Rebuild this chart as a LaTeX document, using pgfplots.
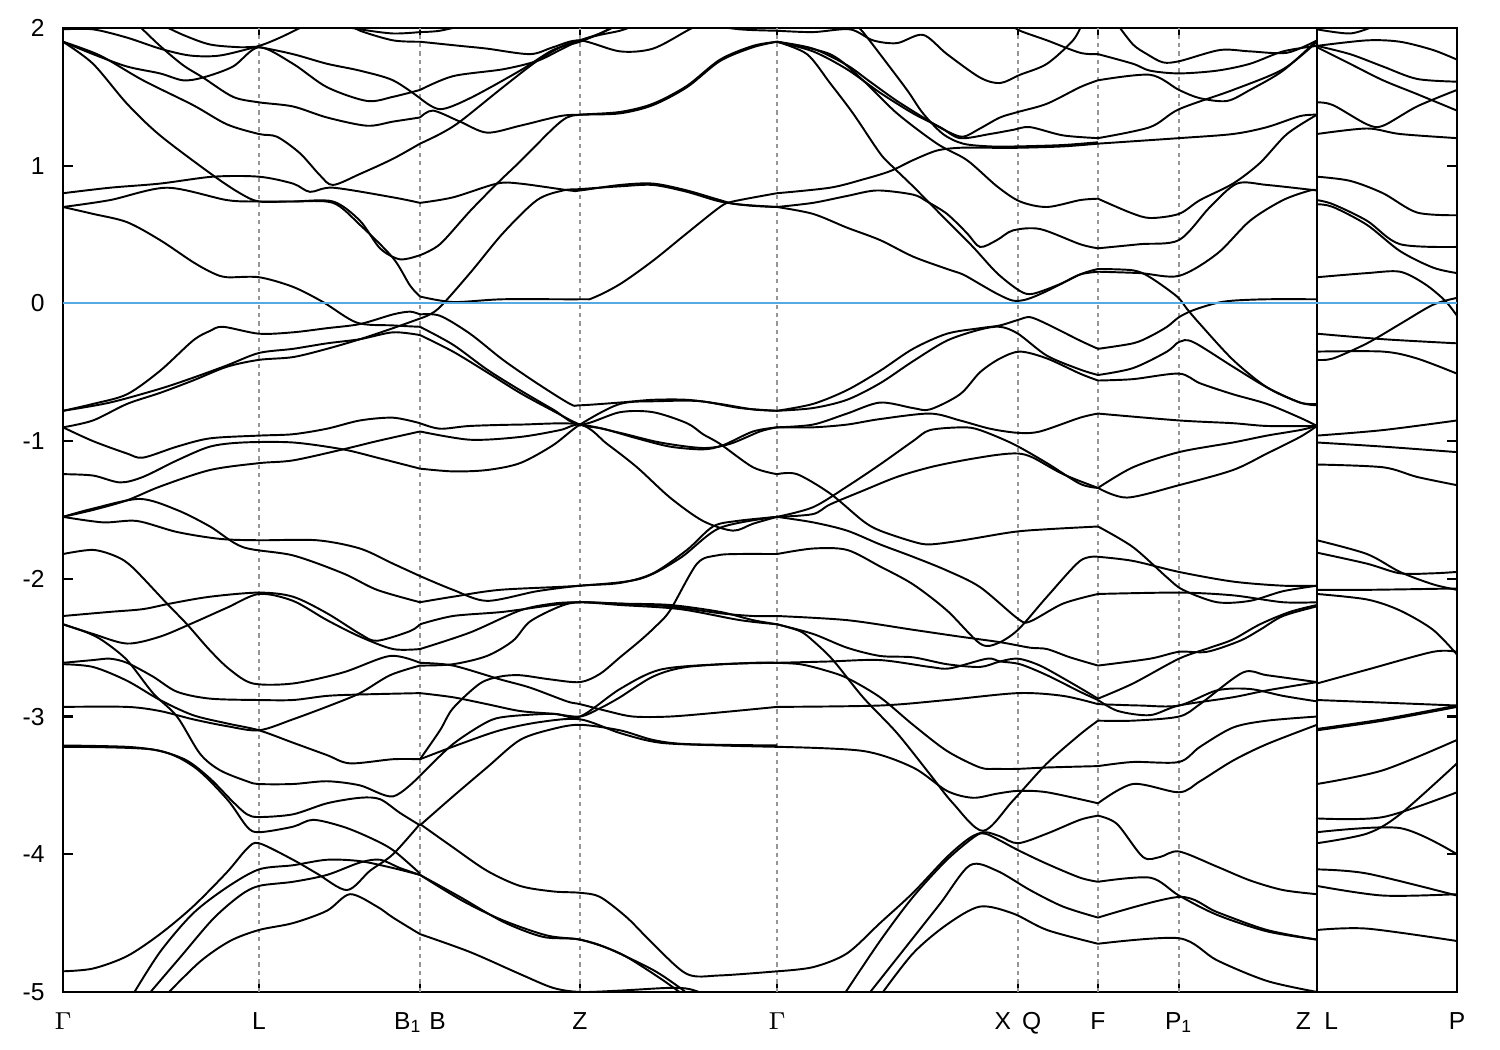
\documentclass[border=0pt]{standalone}
\usepackage{fontspec}
\setmainfont{Liberation Sans}
\usepackage{pgfplots}
\pgfplotsset{compat=1.18}
\definecolor{fermi}{RGB}{86,170,226}
\definecolor{guide}{RGB}{150,150,150}
\begin{document}
\begin{tikzpicture}
\begin{axis}[
  width=13.94cm, height=9.64cm, scale only axis,
  xmin=63, xmax=1457, ymin=-5, ymax=2,
  xtick={63,259,420,580,777,1018,1098,1179,1317,1457},
  xticklabels={$\Gamma$,L,B\textsubscript{1}\hspace{0.3em}B,Z,$\Gamma$,X\hspace{0.45em}Q,F,P\textsubscript{1},Z\hspace{0.55em}L,P},
  ytick={-5,-4,-3,-2,-1,0,1,2},
  yticklabels={-5,-4,-3,-2,-1,0,1,2},
  tick align=inside, major tick length=0.1cm,
  tick style={black, line width=0.6pt},
  axis line style={line width=0.8pt},
  tick label style={font=\fontsize{7}{8}\selectfont},
  xticklabel style={yshift=-0.08cm},
  yticklabel style={xshift=-0.06cm},
  band/.style={black, line width=0.55pt, smooth, tension=0.5},
]
% guide lines
\draw[guide, dash pattern=on 1.2pt off 1.2pt, line width=0.3pt] (axis cs:259,-5) -- (axis cs:259,2);
\draw[guide, dash pattern=on 1.2pt off 1.2pt, line width=0.3pt] (axis cs:420,-5) -- (axis cs:420,2);
\draw[guide, dash pattern=on 1.2pt off 1.2pt, line width=0.3pt] (axis cs:580,-5) -- (axis cs:580,2);
\draw[guide, dash pattern=on 1.2pt off 1.2pt, line width=0.3pt] (axis cs:777,-5) -- (axis cs:777,2);
\draw[guide, dash pattern=on 1.2pt off 1.2pt, line width=0.3pt] (axis cs:1018,-5) -- (axis cs:1018,2);
\draw[guide, dash pattern=on 1.2pt off 1.2pt, line width=0.3pt] (axis cs:1098,-5) -- (axis cs:1098,2);
\draw[guide, dash pattern=on 1.2pt off 1.2pt, line width=0.3pt] (axis cs:1179,-5) -- (axis cs:1179,2);
\draw[black, line width=0.6pt] (axis cs:1317,-5) -- (axis cs:1317,2);

% ---------- Gamma - L - B ----------
\addplot[band] coordinates {(63,1.99)(93,1.99)(127,1.93)(160,1.85)(190,1.80)(220,1.80)(259,1.87)(280,1.93)(300,2.0)(310,2.03)};
\addplot[band] coordinates {(160,2.03)(183,1.95)(210,1.88)(240,1.86)(259,1.86)(293,1.81)(327,1.74)(360,1.69)(393,1.62)(420,1.49)};
\addplot[band] coordinates {(63,1.90)(93,1.81)(127,1.72)(160,1.67)(183,1.62)(203,1.64)(233,1.72)(259,1.86)(293,1.74)(327,1.57)(367,1.47)(393,1.50)(420,1.55)};
\addplot[band] coordinates {(137,2.03)(160,1.87)(183,1.73)(203,1.64)(233,1.50)(259,1.46)(293,1.43)(327,1.35)(367,1.29)(393,1.32)(420,1.35)};
\addplot[band] coordinates {(63,1.90)(100,1.80)(143,1.62)(193,1.44)(227,1.30)(259,1.23)(277,1.21)(300,1.09)(320,0.93)(333,0.86)(360,0.94)(393,1.05)(420,1.16)};
\addplot[band] coordinates {(63,1.90)(93,1.74)(127,1.45)(160,1.22)(213,0.93)(240,0.80)(259,0.74)(293,0.74)(333,0.73)(360,0.57)(393,0.33)(410,0.13)(420,0.05)};
\addplot[band] coordinates {(63,0.70)(110,0.75)(167,0.84)(227,0.75)(259,0.74)(293,0.74)(333,0.74)(360,0.60)(380,0.40)(400,0.32)(420,0.35)};
\addplot[band] coordinates {(63,0.80)(110,0.84)(160,0.87)(213,0.92)(259,0.92)(293,0.87)(310,0.81)(333,0.84)(393,0.77)(420,0.73)};
\addplot[band] coordinates {(63,0.70)(93,0.65)(127,0.59)(160,0.46)(193,0.30)(213,0.22)(227,0.19)(259,0.19)(293,0.12)(323,0.01)(357,-0.14)(393,-0.16)(420,-0.17)};
\addplot[band] coordinates {(350,2.03)(360,1.98)(393,1.91)(420,1.90)};
\addplot[band] coordinates {(330,2.03)(360,1.99)(393,1.96)(420,1.97)};
\addplot[band] coordinates {(63,-0.78)(93,-0.73)(127,-0.66)(160,-0.49)(193,-0.27)(210,-0.20)(223,-0.17)(259,-0.22)(293,-0.21)(327,-0.18)(360,-0.15)(393,-0.08)(410,-0.06)(420,-0.08)};
\addplot[band] coordinates {(63,-0.78)(110,-0.72)(160,-0.62)(193,-0.54)(227,-0.45)(259,-0.36)(293,-0.33)(327,-0.29)(360,-0.26)(393,-0.21)(420,-0.23)};
\addplot[band] coordinates {(63,-0.90)(93,-0.85)(127,-0.73)(160,-0.65)(193,-0.56)(227,-0.46)(259,-0.41)(293,-0.39)(327,-0.33)(360,-0.26)(393,-0.18)(420,-0.11)};
\addplot[band] coordinates {(63,-0.90)(93,-1.00)(127,-1.09)(143,-1.12)(177,-1.04)(210,-0.98)(259,-0.96)(293,-0.95)(327,-0.91)(360,-0.85)(393,-0.83)(420,-0.87)};
\addplot[band] coordinates {(63,-1.24)(93,-1.25)(120,-1.30)(143,-1.26)(177,-1.14)(210,-1.04)(243,-1.01)(293,-1.01)(343,-1.06)(377,-1.12)(420,-1.20)};
\addplot[band] coordinates {(63,-1.55)(93,-1.50)(127,-1.43)(160,-1.33)(210,-1.21)(259,-1.16)(293,-1.14)(343,-1.06)(377,-1.00)(420,-0.93)};
\addplot[band] coordinates {(63,-1.55)(93,-1.49)(140,-1.42)(177,-1.50)(210,-1.62)(243,-1.77)(293,-1.83)(343,-1.96)(377,-2.08)(420,-2.17)};
\addplot[band] coordinates {(63,-1.55)(103,-1.59)(137,-1.58)(177,-1.66)(220,-1.71)(259,-1.72)(317,-1.72)(360,-1.78)(393,-1.89)(420,-1.98)};
\addplot[band] coordinates {(63,-1.82)(93,-1.79)(117,-1.84)(133,-1.92)(167,-2.18)(187,-2.33)(210,-2.52)(230,-2.66)(253,-2.76)(293,-2.76)(343,-2.68)(390,-2.56)(420,-2.61)};
\addplot[band] coordinates {(63,-2.27)(110,-2.24)(143,-2.22)(170,-2.18)(210,-2.13)(259,-2.10)(293,-2.13)(327,-2.25)(360,-2.40)(377,-2.45)(410,-2.38)(420,-2.33)};
\addplot[band] coordinates {(63,-2.33)(93,-2.40)(127,-2.47)(160,-2.42)(193,-2.32)(227,-2.21)(259,-2.11)(293,-2.16)(327,-2.30)(360,-2.42)(393,-2.51)(420,-2.51)};
\addplot[band] coordinates {(63,-2.33)(87,-2.39)(103,-2.45)(127,-2.59)(153,-2.83)(177,-3.00)(200,-3.27)(220,-3.39)(247,-3.47)(259,-3.49)(293,-3.49)(327,-3.47)(360,-3.50)(393,-3.58)(420,-3.43)};
\addplot[band] coordinates {(63,-2.61)(93,-2.59)(110,-2.58)(127,-2.61)(153,-2.71)(177,-2.82)(210,-2.87)(259,-2.88)(293,-2.88)(327,-2.85)(360,-2.84)(420,-2.83)};
\addplot[band] coordinates {(63,-2.62)(93,-2.64)(127,-2.74)(160,-2.88)(193,-2.99)(227,-3.05)(259,-3.10)(293,-3.19)(327,-3.28)(350,-3.34)(393,-3.31)(420,-3.31)};
\addplot[band] coordinates {(63,-2.93)(127,-2.93)(160,-2.96)(193,-3.02)(227,-3.07)(259,-3.10)(293,-3.02)(330,-2.92)(360,-2.83)(390,-2.70)(420,-2.63)};
\addplot[band] coordinates {(63,-3.21)(127,-3.22)(160,-3.25)(187,-3.32)(210,-3.45)(233,-3.62)(247,-3.71)(259,-3.73)(293,-3.71)(327,-3.63)(360,-3.59)(380,-3.60)(400,-3.70)(420,-3.79)};
\addplot[band] coordinates {(63,-3.22)(153,-3.24)(193,-3.36)(227,-3.60)(247,-3.80)(259,-3.84)(293,-3.80)(313,-3.75)(343,-3.80)(370,-3.88)(393,-3.97)(420,-4.14)};
\addplot[band] coordinates {(63,-4.85)(93,-4.83)(127,-4.74)(160,-4.58)(193,-4.38)(227,-4.13)(247,-3.96)(259,-3.92)(293,-4.04)(317,-4.14)(347,-4.26)(370,-4.12)(393,-4.00)(420,-3.78)};
\addplot[band] coordinates {(132,-5.03)(160,-4.71)(193,-4.43)(227,-4.24)(259,-4.11)(293,-4.08)(327,-4.04)(360,-4.05)(393,-4.10)(420,-4.15)};
\addplot[band] coordinates {(147,-5.03)(180,-4.75)(213,-4.47)(240,-4.30)(259,-4.23)(293,-4.20)(327,-4.15)(360,-4.06)(380,-4.04)(400,-4.10)(420,-4.15)};
\addplot[band] coordinates {(165,-5.03)(200,-4.78)(230,-4.63)(259,-4.55)(293,-4.50)(327,-4.41)(350,-4.29)(377,-4.38)(393,-4.46)(420,-4.58)};

% ---------- B - Z - Gamma ----------
\addplot[band] coordinates {(420,1.90)(460,1.87)(487,1.85)(530,1.81)(553,1.86)(580,1.91)(620,1.83)(653,1.85)(687,1.98)(700,2.03)};
\addplot[band] coordinates {(420,1.97)(440,1.98)(470,2.03)};
\addplot[band] coordinates {(420,1.55)(453,1.65)(503,1.70)(537,1.76)(560,1.84)(580,1.91)(600,1.95)(620,1.98)(640,2.03)};
\addplot[band] coordinates {(420,1.49)(440,1.41)(470,1.49)(520,1.69)(553,1.84)(580,1.90)(600,1.96)(620,2.03)};
\addplot[band] coordinates {(420,1.35)(433,1.40)(460,1.32)(487,1.24)(520,1.29)(560,1.36)(580,1.37)(620,1.38)(653,1.44)(687,1.57)(720,1.76)(753,1.86)(777,1.90)};
\addplot[band] coordinates {(420,1.16)(440,1.23)(460,1.32)(503,1.57)(537,1.76)(563,1.87)(580,1.91)(600,1.96)(620,2.03)};
\addplot[band] coordinates {(420,0.35)(440,0.43)(470,0.67)(497,0.87)(520,1.03)(553,1.27)(567,1.35)(580,1.37)(620,1.39)(653,1.45)(687,1.58)(720,1.77)(753,1.87)(777,1.90)};
\addplot[band] coordinates {(420,0.73)(453,0.77)(497,0.87)(520,0.87)(570,0.82)(580,0.82)(620,0.86)(653,0.87)(687,0.82)(720,0.75)(737,0.72)(777,0.70)};
\addplot[band] coordinates {(420,-0.11)(438,-0.04)(470,0.22)(503,0.51)(537,0.75)(563,0.82)(580,0.83)(620,0.85)(653,0.86)(687,0.81)(720,0.74)(750,0.71)(777,0.70)};
\addplot[band] coordinates {(420,0.05)(453,0.01)(503,0.03)(580,0.03)(593,0.04)(620,0.14)(653,0.31)(687,0.51)(720,0.70)(733,0.74)(777,0.80)};
\addplot[band] coordinates {(700,2.03)(740,1.99)(777,1.98)};
\addplot[band] coordinates {(420,-0.08)(440,-0.09)(470,-0.22)(503,-0.41)(537,-0.58)(570,-0.73)(580,-0.74)(620,-0.72)(653,-0.70)(687,-0.70)(720,-0.73)(753,-0.77)(777,-0.78)};
\addplot[band] coordinates {(420,-0.17)(453,-0.30)(487,-0.48)(520,-0.63)(553,-0.77)(580,-0.88)(620,-0.79)(653,-0.79)(687,-0.87)(703,-0.95)(720,-1.02)(753,-1.19)(777,-1.24)};
\addplot[band] coordinates {(420,-0.23)(453,-0.35)(487,-0.50)(520,-0.65)(553,-0.78)(580,-0.88)(603,-0.91)(637,-0.98)(670,-1.04)(703,-1.06)(723,-1.03)(753,-0.93)(777,-0.90)};
\addplot[band] coordinates {(420,-0.87)(440,-0.91)(470,-0.89)(520,-0.88)(580,-0.88)(607,-1.02)(637,-1.19)(670,-1.41)(703,-1.58)(733,-1.65)(753,-1.60)(777,-1.55)};
\addplot[band] coordinates {(420,-0.93)(470,-0.99)(520,-0.97)(560,-0.92)(580,-0.88)(620,-0.94)(660,-1.01)(703,-1.05)(730,-1.02)(760,-0.93)(777,-0.90)};
\addplot[band] coordinates {(420,-1.20)(453,-1.22)(487,-1.21)(520,-1.16)(553,-1.03)(580,-0.88)(620,-0.73)(660,-0.71)(700,-0.71)(740,-0.76)(777,-0.78)};
\addplot[band] coordinates {(420,-1.98)(453,-2.08)(487,-2.16)(537,-2.09)(580,-2.05)(620,-2.03)(653,-1.96)(687,-1.79)(713,-1.62)(737,-1.58)(777,-1.55)};
\addplot[band] coordinates {(420,-2.17)(453,-2.13)(500,-2.08)(580,-2.05)(640,-2.00)(680,-1.85)(720,-1.63)(777,-1.55)};
\addplot[band] coordinates {(420,-2.33)(453,-2.27)(503,-2.24)(553,-2.19)(580,-2.17)(620,-2.18)(670,-2.20)(720,-2.25)(753,-2.27)(777,-2.27)};
\addplot[band] coordinates {(420,-2.51)(470,-2.39)(520,-2.23)(553,-2.18)(580,-2.17)(620,-2.18)(670,-2.19)(720,-2.24)(753,-2.30)(777,-2.33)};
\addplot[band] coordinates {(420,-2.63)(453,-2.62)(487,-2.56)(513,-2.45)(530,-2.31)(560,-2.20)(580,-2.17)(620,-2.19)(680,-2.22)(740,-2.30)(777,-2.33)};
\addplot[band] coordinates {(420,-2.61)(453,-2.63)(500,-2.73)(530,-2.79)(567,-2.89)(580,-2.91)(607,-2.96)(633,-3.00)(670,-3.00)(720,-2.97)(777,-2.93)};
\addplot[band] coordinates {(420,-2.83)(453,-2.86)(487,-2.91)(520,-2.96)(553,-2.98)(580,-3.00)(600,-2.94)(620,-2.86)(653,-2.71)(687,-2.64)(753,-2.61)(777,-2.61)};
\addplot[band] coordinates {(420,-3.31)(440,-3.10)(453,-2.94)(480,-2.76)(500,-2.71)(520,-2.70)(550,-2.73)(580,-2.75)(600,-2.69)(620,-2.57)(640,-2.45)(655,-2.35)(670,-2.23)(697,-1.89)(717,-1.83)(737,-1.82)(777,-1.82)};
\addplot[band] coordinates {(420,-3.43)(453,-3.20)(487,-3.04)(507,-3.00)(553,-2.98)(580,-3.00)(620,-2.80)(660,-2.66)(720,-2.62)(777,-2.61)};
\addplot[band] coordinates {(420,-3.31)(460,-3.20)(500,-3.10)(540,-3.04)(580,-3.02)(620,-3.12)(660,-3.19)(720,-3.21)(777,-3.22)};
\addplot[band] coordinates {(420,-3.79)(453,-3.58)(487,-3.37)(520,-3.17)(553,-3.09)(580,-3.06)(620,-3.10)(653,-3.17)(687,-3.20)(777,-3.21)};
\addplot[band] coordinates {(420,-3.78)(453,-3.95)(487,-4.12)(520,-4.23)(553,-4.27)(580,-4.28)(600,-4.31)(627,-4.46)(653,-4.65)(687,-4.87)(720,-4.88)(777,-4.85)};
\addplot[band] coordinates {(420,-4.15)(463,-4.34)(503,-4.48)(547,-4.59)(580,-4.62)(607,-4.68)(653,-4.84)(680,-4.97)(690,-5.03)};
\addplot[band] coordinates {(420,-4.15)(460,-4.31)(503,-4.49)(543,-4.60)(580,-4.62)(620,-4.72)(660,-4.90)(685,-5.03)};
\addplot[band] coordinates {(420,-4.58)(470,-4.71)(520,-4.87)(553,-4.97)(580,-5.00)(620,-4.99)(670,-4.97)(690,-4.98)(710,-5.03)};

% ---------- Gamma - X - F ----------
\addplot[band] coordinates {(777,1.98)(813,1.97)(850,1.99)(873,1.91)(897,1.89)(923,1.95)(947,1.81)(980,1.64)(1000,1.60)(1020,1.66)(1047,1.74)(1073,1.91)(1082,2.03)};
\addplot[band] coordinates {(855,2.03)(863,1.97)(880,1.81)(907,1.55)(923,1.38)(943,1.23)(963,1.16)(990,1.14)(1018,1.14)(1063,1.15)(1098,1.17)};
\addplot[band] coordinates {(777,0.80)(830,0.84)(863,0.90)(890,0.96)(913,1.04)(937,1.11)(960,1.13)(990,1.13)(1018,1.13)(1063,1.14)(1098,1.16)};
\addplot[band] coordinates {(777,1.90)(813,1.85)(847,1.73)(870,1.61)(897,1.47)(930,1.32)(947,1.25)(963,1.21)(980,1.27)(1000,1.35)(1018,1.39)(1047,1.45)(1080,1.57)(1098,1.62)};
\addplot[band] coordinates {(777,1.90)(813,1.83)(847,1.70)(880,1.53)(913,1.38)(940,1.28)(960,1.20)(990,1.23)(1013,1.26)(1030,1.28)(1063,1.22)(1098,1.20)};
\addplot[band] coordinates {(777,1.90)(830,1.81)(863,1.62)(897,1.38)(937,1.16)(967,1.04)(997,0.85)(1020,0.74)(1047,0.70)(1080,0.75)(1098,0.76)};
\addplot[band] coordinates {(777,1.90)(807,1.81)(830,1.60)(853,1.38)(880,1.09)(893,0.99)(913,0.85)(947,0.60)(973,0.41)(997,0.22)(1020,0.09)(1033,0.07)(1060,0.14)(1080,0.21)(1098,0.23)};
\addplot[band] coordinates {(777,0.70)(813,0.73)(847,0.78)(877,0.82)(913,0.79)(927,0.74)(947,0.65)(967,0.51)(980,0.41)(997,0.46)(1013,0.53)(1040,0.54)(1080,0.43)(1098,0.40)};
\addplot[band] coordinates {(777,0.70)(813,0.65)(847,0.55)(880,0.46)(913,0.34)(947,0.25)(963,0.21)(980,0.14)(997,0.07)(1013,0.02)(1027,0.03)(1047,0.09)(1080,0.21)(1098,0.25)};
\addplot[band] coordinates {(1010,2.03)(1020,1.98)(1047,1.91)(1080,1.82)(1098,1.81)};
\addplot[band] coordinates {(777,-0.78)(813,-0.73)(847,-0.63)(880,-0.49)(913,-0.33)(947,-0.22)(980,-0.18)(1000,-0.16)(1018,-0.12)(1030,-0.10)(1047,-0.15)(1080,-0.27)(1098,-0.33)};
\addplot[band] coordinates {(777,-0.78)(813,-0.76)(847,-0.70)(880,-0.58)(913,-0.42)(947,-0.27)(980,-0.19)(1000,-0.17)(1018,-0.22)(1047,-0.38)(1080,-0.48)(1098,-0.52)};
\addplot[band] coordinates {(777,-0.90)(813,-0.88)(847,-0.80)(880,-0.72)(913,-0.76)(930,-0.77)(960,-0.66)(980,-0.50)(1000,-0.40)(1020,-0.35)(1047,-0.40)(1080,-0.51)(1098,-0.56)};
\addplot[band] coordinates {(777,-0.90)(813,-0.90)(847,-0.88)(880,-0.84)(930,-0.80)(960,-0.85)(990,-0.91)(1018,-0.94)(1040,-0.93)(1080,-0.83)(1098,-0.80)};
\addplot[band] coordinates {(777,-1.24)(797,-1.24)(830,-1.38)(863,-1.58)(880,-1.65)(913,-1.73)(930,-1.75)(963,-1.72)(1013,-1.66)(1047,-1.64)(1098,-1.62)};
\addplot[band] coordinates {(777,-1.55)(813,-1.53)(830,-1.46)(863,-1.36)(897,-1.26)(930,-1.19)(963,-1.14)(997,-1.10)(1018,-1.09)(1033,-1.12)(1063,-1.24)(1098,-1.34)};
\addplot[band] coordinates {(777,-1.55)(813,-1.48)(847,-1.33)(880,-1.17)(913,-1.00)(930,-0.92)(963,-0.90)(980,-0.92)(1013,-1.02)(1047,-1.16)(1080,-1.31)(1098,-1.34)};
\addplot[band] coordinates {(777,-1.55)(813,-1.59)(847,-1.65)(880,-1.75)(913,-1.84)(947,-1.94)(980,-2.06)(1018,-2.29)(1030,-2.31)(1063,-2.18)(1098,-2.11)};
\addplot[band] coordinates {(777,-1.82)(813,-1.78)(847,-1.79)(880,-1.91)(913,-2.04)(947,-2.23)(980,-2.47)(997,-2.47)(1018,-2.37)(1047,-2.13)(1080,-1.87)(1098,-1.84)};
\addplot[band] coordinates {(777,-2.27)(847,-2.30)(913,-2.37)(960,-2.42)(1000,-2.46)(1030,-2.50)(1047,-2.51)(1070,-2.57)(1098,-2.63)};
\addplot[band] coordinates {(777,-2.33)(813,-2.40)(847,-2.50)(880,-2.56)(913,-2.57)(947,-2.62)(980,-2.64)(1000,-2.60)(1018,-2.58)(1040,-2.63)(1070,-2.75)(1098,-2.87)};
\addplot[band] coordinates {(777,-2.61)(830,-2.60)(880,-2.59)(930,-2.64)(950,-2.65)(987,-2.58)(1000,-2.60)(1020,-2.62)(1047,-2.70)(1080,-2.82)(1098,-2.88)};
\addplot[band] coordinates {(777,-2.33)(800,-2.38)(813,-2.45)(833,-2.59)(863,-2.86)(897,-3.12)(930,-3.42)(953,-3.63)(983,-3.83)(1013,-3.61)(1047,-3.34)(1080,-3.13)(1098,-3.03)};
\addplot[band] coordinates {(777,-2.61)(800,-2.62)(823,-2.66)(847,-2.72)(880,-2.86)(913,-3.06)(947,-3.25)(980,-3.37)(997,-3.38)(1018,-3.38)(1047,-3.37)(1098,-3.36)};
\addplot[band] coordinates {(777,-2.93)(880,-2.92)(947,-2.88)(1018,-2.83)(1063,-2.85)(1098,-2.91)};
\addplot[band] coordinates {(777,-3.22)(863,-3.25)(913,-3.37)(947,-3.54)(973,-3.59)(997,-3.56)(1018,-3.54)(1047,-3.55)(1098,-3.63)};
\addplot[band] coordinates {(777,-4.85)(813,-4.82)(847,-4.72)(880,-4.50)(913,-4.28)(947,-4.02)(970,-3.88)(985,-3.84)(1000,-3.87)(1018,-3.92)(1047,-3.85)(1080,-3.75)(1098,-3.72)};
\addplot[band] coordinates {(843,-5.03)(880,-4.63)(913,-4.31)(947,-4.04)(975,-3.87)(985,-3.85)(1000,-3.90)(1018,-3.97)(1047,-4.07)(1080,-4.17)(1098,-4.20)};
\addplot[band] coordinates {(867,-5.03)(903,-4.70)(940,-4.36)(970,-4.08)(997,-4.12)(1030,-4.26)(1063,-4.38)(1098,-4.46)};
\addplot[band] coordinates {(880,-5.03)(913,-4.72)(947,-4.51)(980,-4.38)(1013,-4.43)(1047,-4.55)(1098,-4.65)};

% ---------- F - P1 - Z ----------
\addplot[band] coordinates {(1098,1.81)(1133,1.74)(1150,1.69)(1179,1.67)(1217,1.69)(1250,1.74)(1283,1.83)(1317,1.87)};
\addplot[band] coordinates {(1117,2.03)(1133,1.88)(1147,1.81)(1163,1.75)(1180,1.76)(1220,1.84)(1250,1.83)(1287,1.82)(1317,1.91)};
\addplot[band] coordinates {(1098,1.62)(1150,1.66)(1179,1.55)(1200,1.49)(1227,1.47)(1250,1.55)(1283,1.69)(1317,1.91)};
\addplot[band] coordinates {(1098,1.20)(1150,1.28)(1179,1.41)(1233,1.55)(1283,1.70)(1317,1.90)};
\addplot[band] coordinates {(1098,1.16)(1179,1.20)(1233,1.23)(1267,1.28)(1300,1.36)(1317,1.37)};
\addplot[band] coordinates {(1098,0.76)(1130,0.66)(1150,0.62)(1179,0.65)(1200,0.75)(1233,0.87)(1260,1.02)(1287,1.23)(1317,1.37)};
\addplot[band] coordinates {(1098,0.40)(1140,0.43)(1179,0.46)(1210,0.70)(1237,0.87)(1267,0.86)(1317,0.82)};
\addplot[band] coordinates {(1098,0.23)(1140,0.22)(1179,0.20)(1217,0.36)(1250,0.60)(1283,0.75)(1310,0.82)(1317,0.82)};
\addplot[band] coordinates {(1098,0.25)(1133,0.24)(1150,0.19)(1177,0.05)(1187,-0.04)(1200,-0.15)(1233,-0.41)(1267,-0.61)(1300,-0.72)(1317,-0.74)};
\addplot[band] coordinates {(1098,-0.33)(1133,-0.29)(1150,-0.24)(1167,-0.17)(1179,-0.10)(1193,-0.05)(1215,0.00)(1233,0.02)(1267,0.03)(1317,0.03)};
\addplot[band] coordinates {(1098,-0.52)(1133,-0.47)(1167,-0.35)(1179,-0.28)(1193,-0.28)(1233,-0.46)(1267,-0.61)(1300,-0.72)(1317,-0.73)};
\addplot[band] coordinates {(1098,-0.56)(1133,-0.55)(1179,-0.51)(1200,-0.58)(1233,-0.66)(1267,-0.73)(1300,-0.83)(1317,-0.89)};
\addplot[band] coordinates {(1098,-0.80)(1179,-0.85)(1233,-0.87)(1267,-0.89)(1317,-0.89)};
\addplot[band] coordinates {(1098,-1.34)(1133,-1.19)(1179,-1.08)(1233,-1.01)(1267,-0.96)(1300,-0.92)(1317,-0.89)};
\addplot[band] coordinates {(1098,-1.34)(1127,-1.41)(1179,-1.32)(1233,-1.21)(1267,-1.09)(1300,-0.97)(1317,-0.89)};
\addplot[band] coordinates {(1098,-1.62)(1133,-1.77)(1167,-1.99)(1183,-2.08)(1217,-2.17)(1250,-2.16)(1283,-2.09)(1317,-2.05)};
\addplot[band] coordinates {(1098,-1.84)(1133,-1.87)(1179,-1.95)(1233,-2.02)(1283,-2.05)(1317,-2.05)};
\addplot[band] coordinates {(1098,-2.11)(1179,-2.10)(1233,-2.12)(1283,-2.17)(1317,-2.17)};
\addplot[band] coordinates {(1098,-2.63)(1150,-2.58)(1179,-2.53)(1207,-2.53)(1240,-2.45)(1260,-2.37)(1283,-2.27)(1317,-2.20)};
\addplot[band] coordinates {(1098,-2.87)(1133,-2.76)(1179,-2.58)(1210,-2.50)(1233,-2.44)(1260,-2.33)(1290,-2.24)(1317,-2.19)};
\addplot[band] coordinates {(1098,-2.88)(1118,-2.96)(1150,-2.99)(1179,-2.92)(1233,-2.86)(1267,-2.81)(1317,-2.75)};
\addplot[band] coordinates {(1098,-3.03)(1133,-3.03)(1179,-3.00)(1200,-2.91)(1243,-2.68)(1267,-2.70)(1317,-2.75)};
\addplot[band] coordinates {(1098,-2.91)(1140,-2.92)(1179,-2.92)(1217,-2.81)(1250,-2.80)(1283,-2.85)(1317,-2.89)};
\addplot[band] coordinates {(1098,-3.36)(1133,-3.33)(1179,-3.33)(1200,-3.22)(1233,-3.08)(1267,-3.03)(1317,-3.00)};
\addplot[band] coordinates {(1098,-3.63)(1133,-3.49)(1179,-3.55)(1200,-3.47)(1233,-3.32)(1267,-3.20)(1317,-3.06)};
\addplot[band] coordinates {(1098,-3.72)(1117,-3.78)(1143,-4.02)(1160,-4.02)(1179,-3.98)(1217,-4.09)(1250,-4.19)(1283,-4.26)(1317,-4.29)};
\addplot[band] coordinates {(1098,-4.20)(1150,-4.17)(1179,-4.30)(1217,-4.44)(1267,-4.56)(1317,-4.62)};
\addplot[band] coordinates {(1098,-4.46)(1179,-4.31)(1217,-4.42)(1267,-4.55)(1317,-4.62)};
\addplot[band] coordinates {(1098,-4.65)(1179,-4.61)(1217,-4.77)(1267,-4.92)(1317,-5.00)};

% ---------- L - P ----------
\addplot[band] coordinates {(1317,1.99)(1350,1.96)(1373,2.01)};
\addplot[band] coordinates {(1317,1.87)(1367,1.91)(1400,1.90)(1433,1.84)(1457,1.77)};
\addplot[band] coordinates {(1317,1.87)(1350,1.81)(1383,1.72)(1417,1.63)(1457,1.61)};
\addplot[band] coordinates {(1317,1.86)(1350,1.74)(1383,1.62)(1417,1.52)(1457,1.40)};
\addplot[band] coordinates {(1317,1.46)(1333,1.44)(1367,1.30)(1383,1.29)(1417,1.43)(1457,1.55)};
\addplot[band] coordinates {(1317,1.23)(1367,1.27)(1400,1.23)(1457,1.20)};
\addplot[band] coordinates {(1317,0.92)(1350,0.89)(1383,0.80)(1417,0.66)(1457,0.64)};
\addplot[band] coordinates {(1317,0.75)(1333,0.72)(1367,0.60)(1400,0.43)(1457,0.41)};
\addplot[band] coordinates {(1317,0.72)(1333,0.70)(1367,0.57)(1400,0.38)(1433,0.26)(1457,0.22)};
\addplot[band] coordinates {(1317,0.19)(1367,0.22)(1400,0.23)(1425,0.14)(1445,0.02)(1457,-0.09)};
\addplot[band] coordinates {(1317,-0.22)(1383,-0.26)(1457,-0.29)};
\addplot[band] coordinates {(1317,-0.35)(1383,-0.35)(1417,-0.40)(1457,-0.51)};
\addplot[band] coordinates {(1317,-0.41)(1333,-0.40)(1367,-0.29)(1400,-0.15)(1433,-0.01)(1457,0.04)};
\addplot[band] coordinates {(1317,-0.96)(1383,-0.92)(1457,-0.85)};
\addplot[band] coordinates {(1317,-1.01)(1383,-1.04)(1457,-1.08)};
\addplot[band] coordinates {(1317,-1.17)(1383,-1.19)(1417,-1.26)(1457,-1.32)};
\addplot[band] coordinates {(1317,-1.72)(1367,-1.82)(1400,-1.95)(1433,-2.04)(1457,-2.08)};
\addplot[band] coordinates {(1317,-1.81)(1367,-1.89)(1400,-1.96)(1433,-1.96)(1457,-1.95)};
\addplot[band] coordinates {(1317,-2.08)(1367,-2.08)(1457,-2.07)};
\addplot[band] coordinates {(1317,-2.11)(1367,-2.15)(1400,-2.23)(1433,-2.37)(1457,-2.55)};
\addplot[band] coordinates {(1317,-2.76)(1367,-2.66)(1433,-2.53)(1457,-2.53)};
\addplot[band] coordinates {(1317,-2.88)(1457,-2.92)};
\addplot[band] coordinates {(1317,-3.10)(1383,-3.03)(1457,-2.93)};
\addplot[band] coordinates {(1317,-3.09)(1383,-3.02)(1457,-2.92)};
\addplot[band] coordinates {(1317,-3.49)(1383,-3.39)(1457,-3.17)};
\addplot[band] coordinates {(1317,-3.74)(1383,-3.73)(1457,-3.55)};
\addplot[band] coordinates {(1317,-3.92)(1367,-3.85)(1400,-3.71)(1457,-3.34)};
\addplot[band] coordinates {(1317,-3.84)(1400,-3.81)(1457,-4.00)};
\addplot[band] coordinates {(1317,-4.11)(1367,-4.14)(1457,-4.30)};
\addplot[band] coordinates {(1317,-4.23)(1383,-4.30)(1457,-4.29)};
\addplot[band] coordinates {(1317,-4.55)(1367,-4.54)(1457,-4.63)};

% Fermi level
\addplot[fermi, line width=0.6pt] coordinates {(63,0)(1457,0)};
\end{axis}
\pgfresetboundingbox
\path ([xshift=-0.63cm,yshift=-0.58cm]current axis.south west) rectangle ([xshift=0.43cm,yshift=0.28cm]current axis.north east);
\end{tikzpicture}
\end{document}
